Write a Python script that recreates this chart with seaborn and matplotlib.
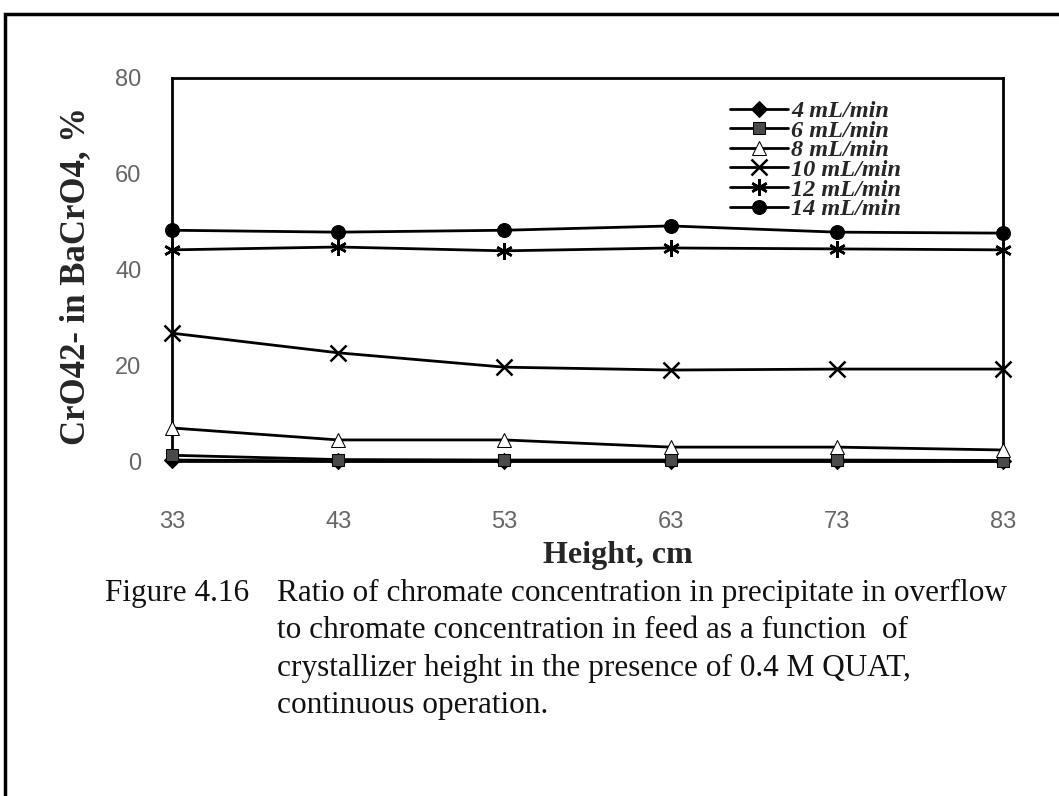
import matplotlib
matplotlib.use("Agg")
import matplotlib.pyplot as plt
import seaborn as sns
import pandas as pd
from matplotlib.patches import Rectangle

# Crystallizer height (cm) and chromate ratio (%) per feed flow rate
heights = [33, 43, 53, 63, 73, 83]
flow_labels = ["4 mL/min", "6 mL/min", "8 mL/min", "10 mL/min", "12 mL/min", "14 mL/min"]
ratio_4 = [0.2, 0.0, 0.0, 0.0, 0.0, 0.0]
ratio_6 = [1.2, 0.3, 0.2, 0.2, 0.2, 0.1]
ratio_8 = [6.9, 4.4, 4.4, 2.9, 2.9, 2.3]
ratio_10 = [26.7, 22.6, 19.6, 19.0, 19.2, 19.2]
ratio_12 = [44.1, 44.7, 43.9, 44.5, 44.3, 44.1]
ratio_14 = [48.2, 47.8, 48.2, 49.1, 47.8, 47.6]
y_ticks = [0, 20, 40, 60, 80]

series = [ratio_4, ratio_6, ratio_8, ratio_10, ratio_12, ratio_14]
df = pd.DataFrame({
    "height": heights * len(series),
    "ratio": [v for s in series for v in s],
    "flow": [lab for lab in flow_labels for _ in heights],
})

sns.set_theme(style="white")
plt.rcParams["font.family"] = ["Liberation Serif", "DejaVu Serif"]

fig = plt.figure(figsize=(10.59, 7.96), dpi=100)
ax = fig.add_axes([172 / 1059, 1 - 461 / 796, (1003 - 172) / 1059, (461 - 78) / 796])

marker_styles = {
    "4 mL/min": dict(marker="D", markerfacecolor="black", markersize=8),
    "6 mL/min": dict(marker="s", markerfacecolor="#4a4a4a", markersize=9),
    "8 mL/min": dict(marker="^", markerfacecolor="white", markersize=10),
    "10 mL/min": dict(marker="x", markersize=11, markeredgewidth=1.8),
    "12 mL/min": dict(marker=(6, 2, 0), markersize=12, markeredgewidth=1.8),
    "14 mL/min": dict(marker="o", markerfacecolor="black", markersize=10),
}

for lab in flow_labels:
    sub = df[df["flow"] == lab]
    sns.lineplot(data=sub, x="height", y="ratio", ax=ax, color="black",
                 linewidth=2.0, markeredgecolor="black", label=lab,
                 clip_on=False, zorder=3, **marker_styles[lab])

ax.set_xlim(33, 83)
ax.set_ylim(0, 80)
ax.set_xticks(heights)
ax.set_yticks(y_ticks)
tick_font = dict(family=["Liberation Sans", "DejaVu Sans"], size=17)
ax.set_xticklabels([str(h) for h in heights], color="#666666", **tick_font)
ax.set_yticklabels([str(v) for v in y_ticks], color="#666666", **tick_font)
ax.tick_params(axis="both", length=0)
ax.tick_params(axis="x", pad=36)
ax.tick_params(axis="y", pad=22)

for sp in ax.spines.values():
    sp.set_color("black")
    sp.set_linewidth(2.0)

ax.set_xlabel("Height, cm", fontsize=23, fontweight="bold", family=["Liberation Serif"])
ax.set_ylabel("CrO42- in BaCrO4, %", fontsize=25, fontweight="bold", family=["Liberation Serif"])
ax.xaxis.set_label_coords((618 - 172) / 831, (461 - 541) / 383)
ax.yaxis.set_label_coords((92 - 172) / 831, (461 - 276) / 383)

leg = ax.legend(loc="upper left", bbox_to_anchor=((718 - 172) / 831, (461 - 88) / 383),
                frameon=False, borderpad=0, labelspacing=-0.1, handlelength=2.4,
                handletextpad=0.1, prop=dict(family="Liberation Serif", weight="bold",
                                             style="italic", size=17.5))

# Figure caption
cap = dict(fontsize=22.5, family=["Liberation Serif"], va="center", ha="left", color="#111111")
fig.text(105 / 1059, 1 - 593 / 796, "Figure 4.16", **cap)
caption_lines = [
    "Ratio of chromate concentration in precipitate in overflow",
    "to chromate concentration in feed as a function  of",
    "crystallizer height in the presence of 0.4 M QUAT,",
    "continuous operation.",
]
for i, line in enumerate(caption_lines):
    fig.text(277 / 1059, 1 - (593 + 37.5 * i) / 796, line, **cap)

# Page frame around the figure
fig.patches.append(Rectangle((5 / 1059, -0.05), 1.2, 1 - 14 / 796 + 0.05,
                             transform=fig.transFigure, fill=False,
                             edgecolor="black", linewidth=2.5))

fig.savefig("out.png", dpi=100)
